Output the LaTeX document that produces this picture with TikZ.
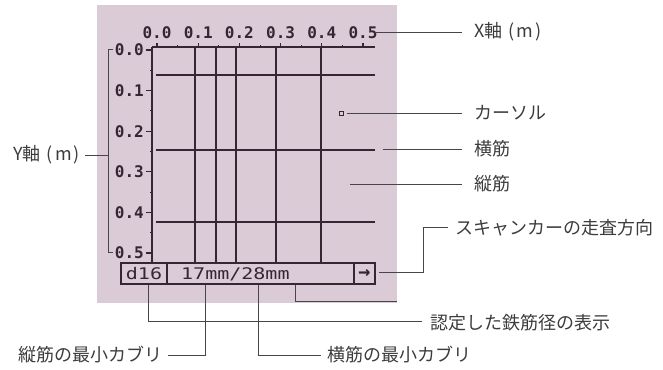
\documentclass[tikz,border=0pt]{standalone}
\usepackage{fontspec}
\newfontfamily\jp{Noto Sans CJK JP}
\newfontfamily\lcd{DejaVu Sans Mono Bold}
\newfontfamily\lcdw[FakeStretch=1.25]{DejaVu Sans Mono}
\definecolor{panel}{RGB}{218,203,215}
\definecolor{ink}{RGB}{52,38,50}
\definecolor{lead}{RGB}{70,70,70}
\definecolor{txt}{RGB}{60,60,60}
\tikzset{
  lab/.style={font=\jp\fontsize{18}{18}\selectfont, text=txt, inner sep=0pt},
  ax/.style={font=\lcd\fontsize{16}{16}\selectfont, text=ink, inner sep=0pt},
  stat/.style={font=\lcdw\fontsize{16}{16}\selectfont, text=ink, inner sep=0pt},
  leader/.style={draw=lead, line width=0.9pt},
  rebar/.style={draw=ink, line width=2.8pt},
  vbar/.style={draw=ink, line width=2.3pt},
  axline/.style={draw=ink, line width=1.3pt},
}
\begin{document}
\begin{tikzpicture}[x=1pt,y=-1pt]
\useasboundingbox (0,0) rectangle (663,369);
\fill[panel] (97,5) rectangle (397,303);
% axes
\draw[axline] (152,47) -- (375,47);
\draw[axline] (152,47) -- (152,262);
\foreach \i [count=\k from 0] in {0.0,0.1,0.2,0.3,0.4,0.5}{
  \pgfmathsetmacro{\xx}{157+41.2*\k}
  \pgfmathsetmacro{\yy}{50+40.6*\k}
  \node[ax] (xt\k) at (\xx,33) {\i};
  \node[ax,anchor=east] (yt\k) at (144,\yy) {\i};
  \draw[axline] (\xx,47) -- (\xx,43);
  \draw[axline] (146,\yy) -- (152,\yy);
}
\foreach \k in {0,...,4}{
  \pgfmathsetmacro{\xx}{177.6+41.2*\k}
  \pgfmathsetmacro{\yy}{70.3+40.6*\k}
  \draw[draw=ink,line width=1pt] (\xx,47) -- (\xx,45);
  \draw[draw=ink,line width=1pt] (152,\yy) -- (150,\yy);
}
% rebars
\foreach \x in {195,216,236,276,321}{
  \draw[vbar] (\x,47) -- (\x,263);
}
\foreach \y in {75,150,222}{
  \draw[rebar] (156,\y) -- (375,\y);
}
% cursor
\node[draw=ink, line width=0.8pt, minimum size=4pt, inner sep=0pt] (cur) at (341,113) {};
% status bar
\draw[ink, line width=1.3pt] (121,263) rectangle (375,284);
\draw[ink, line width=1.3pt] (167,263) -- (167,284);
\draw[ink, line width=1.3pt] (354,263) -- (354,284);
\node[stat] (dia) at (144,274) {d16};
\node[stat,anchor=west] (cov) at (181,274) {17mm/28mm};
\node[stat, font=\lcd\fontsize{20}{20}\selectfont] (dir) at (364.5,273.5) {→};
% labels
\node[lab,anchor=west] (lx) at (474,32) {X軸\hspace{6pt}(\hspace{2pt}m\hspace{2pt})};
\node[lab,anchor=west] (lc) at (474,113) {カーソル};
\node[lab,anchor=west] (lh) at (474,149) {横筋};
\node[lab,anchor=west] (lv) at (474,184) {縦筋};
\node[lab,anchor=west] (ls) at (455,228) {スキャンカーの走査方向};
\node[lab,anchor=west] (ld) at (430,323) {認定した鉄筋径の表示};
\node[lab,anchor=east] (lvc) at (163,355) {縦筋の最小カブリ};
\node[lab,anchor=west] (lhc) at (327,355) {横筋の最小カブリ};
\node[lab,anchor=east] (ly) at (80,155) {Y軸\hspace{6pt}(\hspace{2pt}m\hspace{2pt})};
% leaders
\coordinate (a1) at (375,32);
\draw[leader] (a1) -- (462,32);
\draw[leader] (cur.east) ++(4,0) -- (462,113);
\draw[leader] (383,149) -- (462,149);
\draw[leader] (350,184) -- (462,184);
\draw[leader] (379,272) -- (423,272) -- (423,227) -- (448,227);
\draw[leader] (148,285) -- (148,321) -- (422,321);
\draw[leader] (295,285) -- (295,301) -- (397,301);
\draw[leader] (205,285) -- (205,355) -- (168,355);
\draw[leader] (258,285) -- (258,355) -- (321,355);
\draw[leader] (113,49) -- (108,49) -- (108,252) -- (113,252);
\draw[leader] (85,155) -- (108,155);
\end{tikzpicture}
\end{document}
